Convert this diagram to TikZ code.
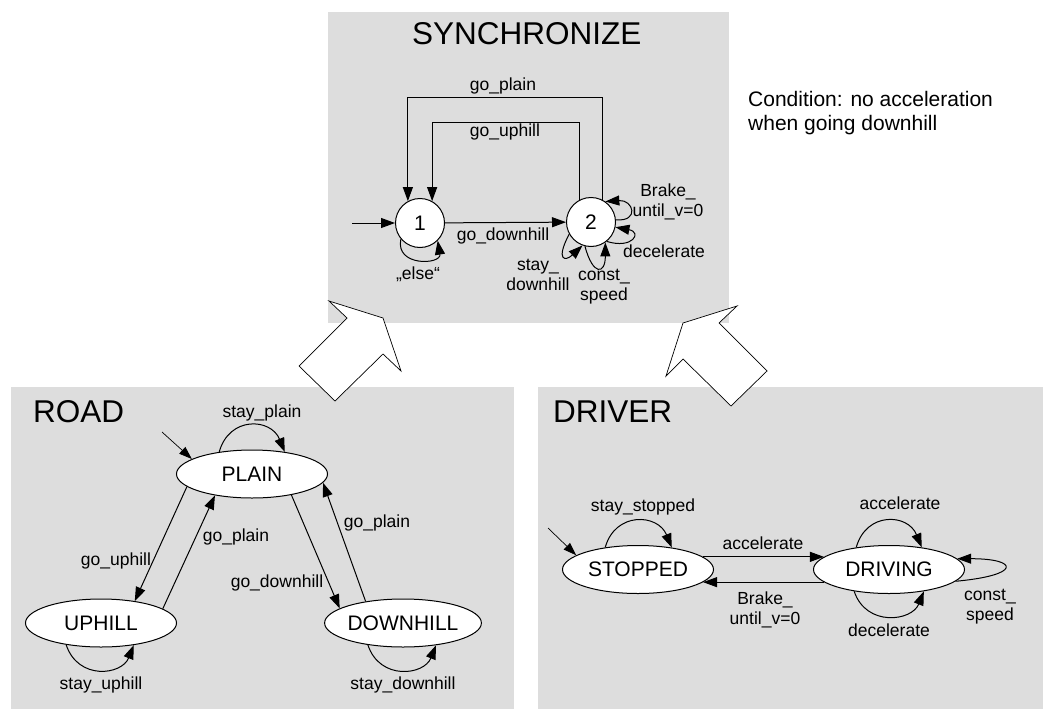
\documentclass[tikz,border=0pt]{standalone}
\usepackage{fontspec}
\setmainfont{Liberation Sans}
\usetikzlibrary{arrows.meta,shapes.geometric}
\definecolor{panelgray}{RGB}{221,221,221}
\begin{document}
\begin{tikzpicture}[x=1pt,y=1pt,
  panel/.style={fill=panelgray, draw=none},
  state/.style={ellipse, draw, fill=white, line width=1pt, minimum width=151pt,
    minimum height=48pt, inner sep=0pt, font=\fontsize{21}{24}\selectfont},
  loc/.style={circle, draw, fill=white, line width=1pt, minimum size=49pt,
    inner sep=0pt, font=\fontsize{21}{24}\selectfont},
  tr/.style={draw, line width=1pt, -{Triangle[length=14pt,width=10pt]}},
  initial/.style={draw, line width=0.7pt, -{Triangle[length=13pt,width=9pt]}},
  lbl/.style={font=\fontsize{17.5}{20}\selectfont, inner sep=0pt, align=center},
  title/.style={font=\fontsize{31.5}{36}\selectfont, inner sep=0pt, anchor=base west},
  blockarrow/.style={draw, fill=white, line width=0.7pt, line join=miter},
]
\useasboundingbox (0,0) rectangle (1043,-709);

% background panels
\fill[panel] (328,-12) rectangle (729,-323);
\fill[panel] (11,-387) rectangle (514,-709);
\fill[panel] (538,-387) rectangle (1043,-709);

% ---------------- SYNCHRONIZE ----------------
\node[title] (synctitle) at (412,-45) {SYNCHRONIZE};
\node[font=\fontsize{21}{24}\selectfont, align=left, anchor=north west, inner sep=0pt]
  (cond) at (748,-91) {Condition: no acceleration\\when going downhill};

\node[loc] (s1) at (420,-223) {1};
\node[loc] (s2) at (591,-222) {2};
\coordinate (s1in) at (352,-223);
\coordinate (plaintop) at (0,-97);
\coordinate (uphilltop) at (0,-122);

\draw[tr] (s1in) -- (s1);
\draw[tr] (s1) -- (s2);
\node[lbl] (lgodown) at (503,-236) {go\_downhill};

\draw[tr] (s2.63) -- (s2.63 |- plaintop) -| (s1.119);
\node[lbl] (lgoplain) at (503,-86) {go\_plain};
\draw[tr] (s2.117) -- (s2.117 |- uphilltop) -| (s1.61);
\node[lbl] (lgoup) at (505,-132) {go\_uphill};

\draw[tr] (s1.220) .. controls +(-6,-28) and +(4,-24) .. (s1.315);
\node[lbl] (lelse) at (418,-274) {„else“};

\draw[tr] (s2.5) .. controls +(24,-2) and +(28,2) .. (s2.55);
\node[lbl] (lbrake) at (668,-202) {Brake\_\\until\_v=0};
\draw[tr] (s2.309) .. controls +(26,-8) and +(27,-5) .. (s2.348);
\node[lbl] (ldecel) at (664,-251) {decelerate};
\draw[tr] (s2.256) .. controls +(8,-30) and +(0,-32) .. (s2.305);
\node[lbl] (lconst) at (604,-287) {const\_\\speed};
\draw[tr] (s2.209) .. controls +(-14,-27) and +(-17,-16) .. (s2.250);
\node[lbl] (lstaydown) at (538,-274.5) {stay\_\\downhill};

% block arrows into the product automaton
\draw[blockarrow] (329,-301) -- (383,-318) -- (401,-371) -- (383,-354) -- (335,-401)
  -- (299,-366) -- (347,-318) -- cycle;
\draw[blockarrow] (737,-306) -- (683,-323) -- (666,-376) -- (683,-359) -- (731,-406)
  -- (767,-371) -- (719,-323) -- cycle;

% ---------------- ROAD ----------------
\node[title] (roadtitle) at (33,-422) {ROAD};
\node[state] (plain) at (252,-474) {PLAIN};
\node[state] (uphill) at (101,-623) {UPHILL};
\node[state] (downhill) at (403,-623) {DOWNHILL};
\coordinate (roadin) at (162,-432);

\draw[initial] (roadin) -- (plain.166);
\draw[tr] (plain.146) .. controls +(10,36) and +(-14,34) .. (plain.34);
\node[lbl] (lstayplain) at (262,-413) {stay\_plain};
\draw[tr] (plain.191) -- (uphill.33);
\node[lbl] (lrgoup) at (116,-561) {go\_uphill};
\draw[tr] (uphill.13) -- (plain.210);
\node[lbl] (lrgoplain1) at (236,-537) {go\_plain};
\draw[tr] (plain.332) -- (downhill.167);
\node[lbl] (lrgodown) at (277,-583) {go\_downhill};
\draw[tr] (downhill.150) -- (plain.353);
\node[lbl] (lrgoplain2) at (377,-523) {go\_plain};
\draw[tr] (uphill.212) .. controls +(12,-36) and +(-12,-30) .. (uphill.326);
\node[lbl] (lstayup) at (101,-685) {stay\_uphill};
\draw[tr] (downhill.212) .. controls +(12,-36) and +(-12,-30) .. (downhill.326);
\node[lbl] (lstaydownr) at (403,-685) {stay\_downhill};

% ---------------- DRIVER ----------------
\node[title] (drivertitle) at (553,-422) {DRIVER};
\node[state] (stopped) at (638,-569.5) {STOPPED};
\node[state] (driving) at (889,-569.5) {DRIVING};
\coordinate (drvin) at (548,-528);

\draw[initial] (drvin) -- (stopped.167);
\draw[tr] (stopped.146) .. controls +(10,36) and +(-14,34) .. (stopped.33);
\node[lbl] (lstaystop) at (643,-507) {stay\_stopped};
\draw[tr] (stopped.11) -- (driving.169);
\node[lbl] (laccel) at (763,-543) {accelerate};
\draw[tr] (driving.191) -- (stopped.349);
\node[lbl] (lbrakedrv) at (765,-610) {Brake\_\\until\_v=0};
\draw[tr] (driving.146) .. controls +(10,36) and +(-14,34) .. (driving.34);
\node[lbl] (laccelloop) at (900,-503) {accelerate};
\draw[tr] (driving.212) .. controls +(12,-36) and +(-12,-30) .. (driving.328);
\node[lbl] (ldecelloop) at (889,-630) {decelerate};
\draw[tr] (driving.350) .. controls +(66,6) and +(62,0) .. (driving.9);
\node[lbl] (lconstdrv) at (990,-606.5) {const\_\\speed};
\end{tikzpicture}
\end{document}
